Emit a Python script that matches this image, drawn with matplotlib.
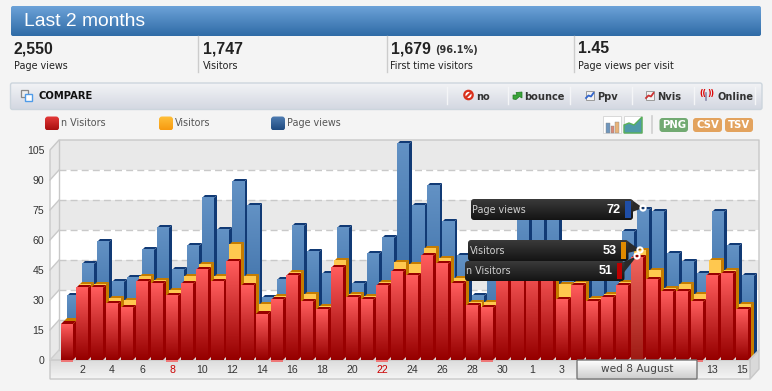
#!/usr/bin/python3

# Analytics dashboard panel with a pseudo-3D column chart.
import numpy as np
import matplotlib
matplotlib.use('Agg')
import matplotlib.pyplot as plt
from matplotlib.patches import FancyBboxPatch, Polygon, Rectangle, Circle
from matplotlib.colors import LinearSegmentedColormap

W, H = 772, 391

# data, one value per day from 1 July to 15 August
new_visitors = [18, 36, 36, 28, 26, 39, 38, 32, 38, 45, 39, 49, 37, 23, 30, 42,
                29, 25, 46, 31, 30, 37, 44, 42, 52, 48, 38, 27, 26, 45, 46,
                48, 47, 30, 37, 29, 31, 37, 51, 40, 34, 34, 29, 42, 43, 25]
visitors = [18, 36, 36, 29, 28, 40, 38, 33, 40, 46, 40, 56, 40, 26, 30, 42,
            31, 25, 48, 31, 30, 37, 47, 46, 54, 49, 39, 27, 27, 47, 48,
            50, 49, 36, 37, 29, 31, 37, 53, 43, 34, 36, 31, 48, 43, 26]
page_views = [29, 45, 56, 36, 38, 52, 63, 42, 54, 78, 62, 86, 74, 28, 37, 64,
              51, 40, 63, 35, 50, 58, 105, 74, 84, 66, 49, 29, 47, 50, 72,
              72, 72, 44, 50, 44, 47, 61, 72, 71, 50, 46, 40, 71, 54, 39]
days = list(range(1, 47))

tick_days = [2, 4, 6, 8, 10, 12, 14, 16, 18, 20, 22, 24, 26, 28, 30, 32, 34, 44, 46]
tick_labels = ['2', '4', '6', '8', '10', '12', '14', '16', '18', '20', '22', '24',
               '26', '28', '30', '1', '3', '13', '15']
red_ticks = ['8', '22']
week_marks = [1, 8, 15, 22, 29, 43]
y_ticks = [0, 15, 30, 45, 60, 75, 90, 105]

stat_values = ['2,550', '1,747', '1,679', '1.45']
stat_names = ['Page views', 'Visitors', 'First time visitors', 'Page views per visit']
legend_names = ['n Visitors', 'Visitors', 'Page views']
hover_day = 39
hover_date = 'wed 8 August'

SANS = 'Liberation Sans'
VERD = 'DejaVu Sans'


def vgrad(ax, x0, y0, x1, y1, top, bottom, radius=0, zorder=1, edge=None, lw=0.8):
    # y0 is the upper edge on screen, rounded box clips the gradient
    cmap = LinearSegmentedColormap.from_list('g', [top, bottom])
    im = ax.imshow(np.linspace(0, 1, 64)[:, None], cmap=cmap, aspect='auto',
                   extent=(x0, x1, y1, y0), zorder=zorder, interpolation='bilinear')
    box = FancyBboxPatch((x0, y0), x1 - x0, y1 - y0,
                         boxstyle='round,pad=0,rounding_size=%g' % radius,
                         fc='none', ec=edge if edge else 'none', lw=lw, zorder=zorder + 0.1)
    ax.add_patch(box)
    im.set_clip_path(box)
    return im


def pixel_axes(z):
    a = fig.add_axes([0, 0, 1, 1], zorder=z)
    a.set_xlim(0, W)
    a.set_ylim(H, 0)
    a.axis('off')
    return a


fig = plt.figure(figsize=(W / 100, H / 100), dpi=100, facecolor='#f4f4f4')
ui = pixel_axes(0)

# header and stats
vgrad(ui, 11, 6, 761, 36, '#6ca2d8', '#2f6ba6', radius=2)
ui.text(24, 21.5, 'Last 2 months', color='white', fontsize=13.9, family=SANS, va='center')
for x, val, name in zip([14, 203, 391, 578], stat_values, stat_names):
    ui.text(x, 48.5, val, color='#222222', fontsize=11.4, family=SANS, weight='bold', va='center')
    ui.text(x - 0.5, 66, name, color='#222222', fontsize=6.9, family=VERD, va='center')
ui.text(435, 50, '(96.1%)', color='#333333', fontsize=7, family=VERD, weight='bold', va='center')
for x in [198, 387, 574]:
    ui.plot([x, x], [36, 72], color='#cccccc', lw=1)

# compare bar
vgrad(ui, 10.5, 83, 762, 109.5, '#f3f4f6', '#d4d8e2', radius=2, edge='#ccd5dd', lw=1)
ui.text(38.5, 96, 'COMPARE', color='#111111', fontsize=7.2, family=VERD, weight='bold', va='center')
ui.add_patch(Rectangle((20.5, 90), 7, 7, fc='#eeeeee', ec='#888888', lw=0.9, zorder=3))
ui.add_patch(Rectangle((25, 94), 6.5, 6.5, fc='white', ec='#4f9be8', lw=1, zorder=3))
for x in [447, 508, 570, 632, 694, 755]:
    ui.plot([x, x], [87, 104], color='#f4f5f7', lw=1, zorder=3)
for x, txt in zip([476.5, 524.5, 597.5, 657.5, 717], ['no', 'bounce', 'Ppv', 'Nvis', 'Online']):
    ui.text(x, 96.5, txt, color='#333333', fontsize=7.1, family=VERD, weight='bold', va='center', zorder=3)
ui.add_patch(Circle((468.5, 95), 4.2, fc='white', ec='#d9301c', lw=1.6, zorder=3))
ui.plot([466, 471], [97.5, 92.5], color='#d9301c', lw=1.6, zorder=4)
ui.add_patch(Polygon([[513, 99], [513, 95], [517, 95], [516, 92.5], [522, 92],
                      [522, 98], [519.5, 96.5], [516, 99.5]], fc='#3aa33a', ec='#1f7a1f', lw=0.5, zorder=3))
for x, c in zip([585.5, 645.5], ['#3366cc', '#cc3333']):
    ui.add_patch(Rectangle((x, 91), 8.5, 8.5, fc='#f2f2f2', ec='#9a9a9a', lw=0.7, zorder=3))
    ui.plot([x + 0.5, x + 3, x + 5.5, x + 8], [98, 95.5, 96.5, 93], color=c, lw=1.3, zorder=4)
ui.plot([706, 706], [93, 100], color='#8888aa', lw=1.2, zorder=3)
ui.text(706, 93.5, '((', color='#dd0000', fontsize=5.5, family=VERD, weight='bold', ha='right', va='center', zorder=3)
ui.text(707, 93.5, '))', color='#dd0000', fontsize=5.5, family=VERD, weight='bold', ha='left', va='center', zorder=3)

# legend
for x, name, c0, c1 in zip([45, 159, 271], legend_names,
                           ['#e63a3a', '#ffc03a', '#4f7db2'], ['#a80f0f', '#f79a10', '#1f4a80']):
    vgrad(ui, x, 116.5, x + 14, 130.5, c0, c1, radius=3)
    ui.text(x + 16, 123.5, name, color='#555555', fontsize=6.9, family=VERD, va='center')

# export buttons and chart type icons
for x in [603, 624]:
    ui.add_patch(Rectangle((x, 116), 18, 17, fc='white', ec='#d8d8d8', lw=0.7, zorder=2))
for x, h, c in zip([606, 610.5, 615], [10, 7, 11], ['#6f96bd', '#d98a78', '#e9b47a']):
    ui.add_patch(Rectangle((x, 133 - h), 3.5, h, fc=c, ec='#888888', lw=0.3, zorder=3))
ui.add_patch(Polygon([[624, 133], [624, 125], [629, 123], [634, 125], [642, 117], [642, 133]],
                     fc='#4f9aa8', ec='#58b058', lw=1, zorder=3))
ui.plot([652, 652], [116, 133], color='#cfcfcf', lw=1.2)
for x0, x1, txt, c in zip([659.5, 693, 725], [688, 722, 753], ['PNG', 'CSV', 'TSV'],
                          ['#72aa72', '#e3a35e', '#e3a35e']):
    ui.add_patch(FancyBboxPatch((x0, 118), x1 - x0, 14, boxstyle='round,pad=0,rounding_size=3', fc=c, ec='none'))
    ui.text((x0 + x1) / 2, 125.3, txt, color='white', fontsize=7.3, family=VERD, weight='bold', ha='center', va='center')

# chart walls, 2 px per unit, back wall is shifted by 9,-10 px
front_left, back_left, back_right, front_right = 50, 59, 759, 750
for i, v in enumerate(y_ticks[:-1]):
    y = 360 - 2 * v
    c = '#e9e9e9' if i % 2 == 0 else 'white'
    top = y - 30
    ui.add_patch(Rectangle((back_left, top - 10), back_right - back_left, 30, fc=c, ec='none', zorder=1))
    ui.add_patch(Polygon([[front_left, y], [back_left, y - 10], [back_left, top - 10], [front_left, top]],
                         fc=c, ec='none', zorder=1))
for v in y_ticks[1:-1]:
    y = 360 - 2 * v
    ui.plot([back_left, back_right], [y - 10, y - 10], color='#c9c9c9', lw=1, dashes=(5, 3), zorder=1.5)
    ui.plot([front_left, back_left], [y, y - 10], color='#c9c9c9', lw=1, zorder=1.5)
ui.add_patch(Polygon([[front_left, 360], [back_left, 350], [back_right, 350], [front_right, 360]],
                     fc='#dddddd', ec='none', zorder=1.6))
ui.add_patch(Polygon([[front_right, 360], [back_right, 350], [back_right, 369], [front_right, 379]],
                     fc='#d9d9d9', ec='#c8c8c8', lw=1, zorder=1.6))
vgrad(ui, front_left, 360, front_right, 379, '#dcdcdc', '#f4f4f4', zorder=1.7, edge='#c8c8c8', lw=1)
ui.plot([front_left, front_left, back_left, back_right, back_right],
        [360, 150, 140, 140, 350], color='#c8c8c8', lw=1, zorder=1.8)
ui.plot([back_left, back_left], [140, 350], color='#c8c8c8', lw=1, zorder=1.8)
ui.plot([back_left, front_left], [350, 360], color='#cfcfcf', lw=1, zorder=1.8)
ui.set_xlim(0, W)
ui.set_ylim(H, 0)

# chart proper: 15 px per day, 2 px per value
ax = fig.add_axes([61 / W, (H - 360) / H, 690 / W, 210 / H], zorder=1)
ax.patch.set_alpha(0)
for s in ax.spines.values():
    s.set_visible(False)

dx, dy = 0.2, 1.5   # one depth step, 3 px
bar_w = 0.8
series = [
    (page_views, 2, '#6291c4', '#2b5f99', '#113a75'),
    (visitors, 1, '#ffc84f', '#ffc84f', '#c67c00'),
    (new_visitors, 0, '#ff5c5c', '#960000', '#990000'),
]
z = 2
for vals, step, c_top, c_bot, c_side in series:
    cmap = LinearSegmentedColormap.from_list('s', [c_bot, c_top])
    for d, v in zip(days, vals):
        x0 = d - bar_w / 2 + step * dx
        x1 = x0 + bar_w
        base = step * dy
        y1 = base + v
        ax.add_patch(Polygon([[x1, base], [x1 + dx, base + dy], [x1 + dx, y1 + dy], [x1, y1]],
                             fc=c_side, ec='none', zorder=z, clip_on=False))
        ax.add_patch(Polygon([[x0, y1], [x0 + dx, y1 + dy], [x1 + dx, y1 + dy], [x1, y1]],
                             fc=c_side, ec='none', zorder=z, clip_on=False))
        ax.imshow(np.linspace(1, 0, 32)[:, None], cmap=cmap, aspect='auto', extent=(x0, x1, base, y1),
                  zorder=z + 0.1, interpolation='bilinear', clip_on=False)
        z += 0.2

# highlighted day is washed out a bit
hv = new_visitors[hover_day - 1]
ax.bar(hover_day, hv, bar_w, color='#c08060', alpha=0.22, zorder=z)
ax.bar(week_marks, [-1.2] * len(week_marks), bar_w, color='#ee7777', zorder=z + 1, clip_on=False)

ax.set_xlim(0.6, 46.6)
ax.set_ylim(0, 105)
ax.set_xticks(tick_days)
ax.set_xticklabels(tick_labels)
ax.set_yticks(y_ticks)
ax.tick_params(length=0, labelsize=7.6, colors='#333333')
ax.tick_params(axis='x', pad=3.5)
ax.tick_params(axis='y', pad=12)
for t in ax.get_xticklabels() + ax.get_yticklabels():
    t.set_family(SANS)
for t in ax.get_xticklabels():
    if t.get_text() in red_ticks:
        t.set_color('#cc0000')

# tooltips and date label
top = pixel_axes(2)
vgrad(top, 577, 360, 697, 379, '#ffffff', '#cccccc', radius=1, zorder=2, edge='#777777', lw=1)
top.text(637, 369, hover_date, color='#444444', fontsize=7.6, family=VERD, ha='center', va='center', zorder=3)

tips = [
    (471, 633, 199, 220, legend_names[2], page_views, '#1f4ea8', (643, 208)),
    (468, 628.5, 240, 261, legend_names[1], visitors, '#e08a00', (640, 250)),
    (465, 624.5, 261, 281, legend_names[0], new_visitors, '#bb0000', (637, 256)),
]
z = 5
for x0, x1, y0, y1, name, vals, col, pt in tips:
    ym = (y0 + y1) / 2
    top.add_patch(Polygon([[x1 - 1, y0 + 1], [x1 - 1, y1 - 8], pt], fc='#2a2a2a', ec='none', zorder=z))
    top.add_patch(Circle(pt, 2.6, fc='none', ec='white', lw=1.5, zorder=z + 0.9))
    vgrad(top, x0, y0, x1, y1, '#3a3a3a', '#141414', radius=3, zorder=z + 0.1)
    top.text(x0 + 1.5, ym + 0.5, name, color='#cfcfcf', fontsize=6.9, family=VERD, va='center', zorder=z + 0.5)
    top.text(x1 - 12, ym + 0.5, str(vals[hover_day - 1]), color='white', fontsize=9.2, family=SANS,
             weight='bold', ha='right', va='center', zorder=z + 0.5)
    top.add_patch(Rectangle((x1 - 8, y0 + 2), 5.5, y1 - y0 - 4, fc=col, ec='none', zorder=z + 0.5))
    z += 1
top.set_xlim(0, W)
top.set_ylim(H, 0)

plt.savefig('out.png', dpi=100, facecolor=fig.get_facecolor())
